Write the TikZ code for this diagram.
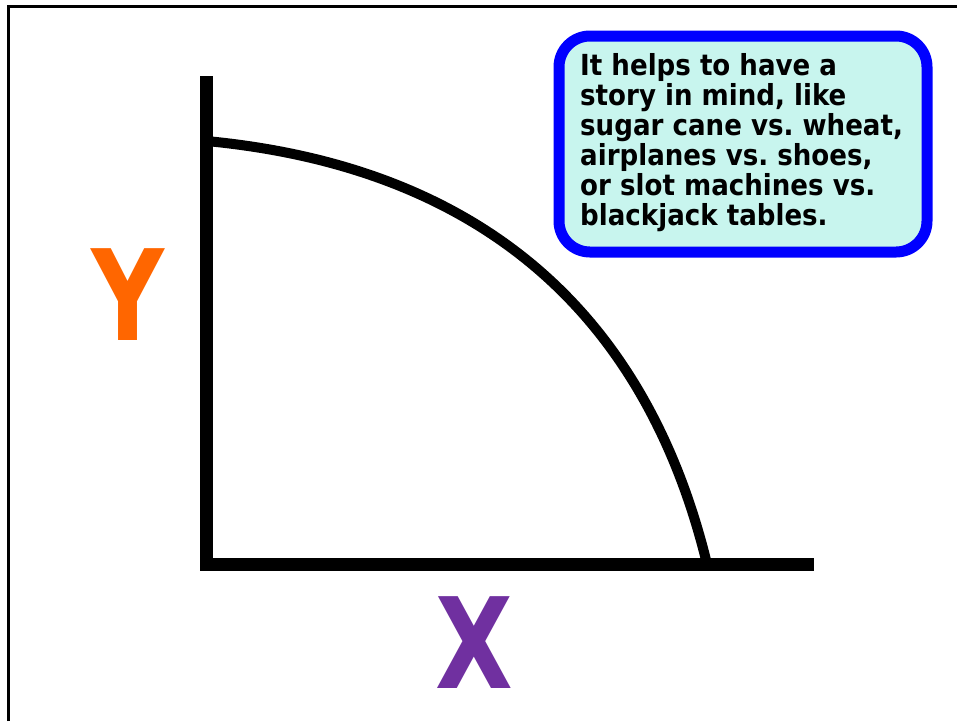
\documentclass[tikz,border=0pt]{standalone}
\usepackage{fontspec}
\newfontfamily\boxfont[FakeStretch=0.9]{DejaVu Sans}
\newfontfamily\bigfont[FakeStretch=0.8]{DejaVu Sans}
\definecolor{notefill}{RGB}{200,245,238}
\definecolor{noteblue}{RGB}{0,0,255}
\definecolor{yorange}{RGB}{255,102,0}
\definecolor{xpurple}{RGB}{112,48,160}
\tikzset{
  axisline/.style={line width=13pt, line join=miter, line cap=butt},
  curveline/.style={line width=10pt, line cap=butt},
  framerule/.style={line width=3pt},
  notebox/.style={draw=noteblue, fill=notefill, line width=11pt, rounded corners=31pt,
    inner sep=0pt, outer sep=0pt, minimum width=368pt, minimum height=216pt},
  notetext/.style={inner sep=0pt, anchor=base west},
  bigletter/.style={inner sep=0pt, font=\bigfont\bfseries\fontsize{126}{126}\selectfont}
}
\begin{document}
\frenchspacing
\begin{tikzpicture}[x=1pt,y=-1pt]
\useasboundingbox (0,0) rectangle (957,721);
\fill[white] (0,0) rectangle (957,721);
% frame
\coordinate (fb) at (8.3,721);
\coordinate (fc) at (8.3,6);
\coordinate (fr) at (957,6);
\draw[framerule] (fb) -- (fc) -- (fr);
% axes
\coordinate (ytop) at (206.5,76);
\coordinate (origin) at (206.5,564);
\coordinate (xend) at (814,564);
\draw[axisline] (ytop) -- (origin) -- (xend);
% curve
\coordinate (cstart) at (206.5,141);
\coordinate (cend) at (707,564);
\draw[curveline] (cstart) .. controls (490,168) and (648,322) .. (cend);
% labels
\node[bigletter, text=yorange] (ylab) at (128,295) {Y};
\node[bigletter, text=xpurple] (xlab) at (474,643) {X};
% note
\node[notebox] (note) at (743,144) {};
\node[notetext] (notetxt) at (580,75) {\parbox[t]{340pt}{\boxfont\bfseries\fontsize{29}{30}\selectfont\raggedright
It helps to have a\\
story in mind, like\\
sugar cane vs. wheat,\\
airplanes vs. shoes,\\
or slot machines vs.\\
blackjack tables.}};
\end{tikzpicture}
\end{document}
